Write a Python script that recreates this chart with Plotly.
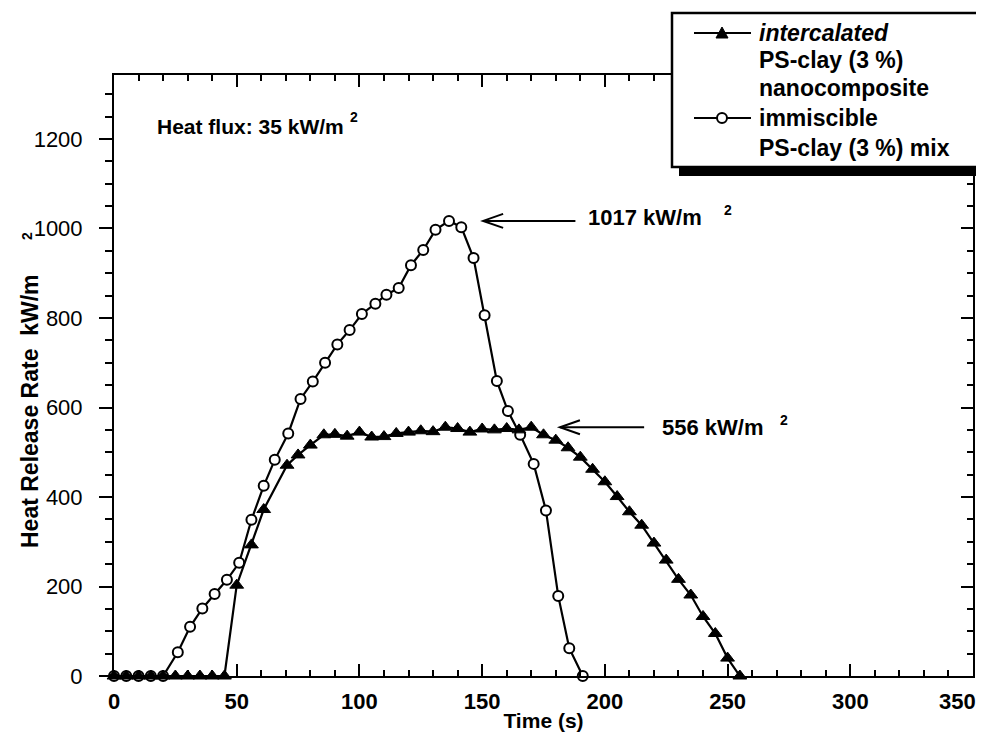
import plotly.graph_objects as go

# ---- data ----
t_nano = [0, 5, 10, 15, 20, 25, 30, 35, 40, 45, 50, 56, 61, 70.5, 75, 80, 85.5, 90, 95, 100,
          105, 110, 115, 120, 125, 130, 135, 140, 145, 150, 155, 160, 165, 170, 175, 180, 185,
          190, 195, 200, 205, 210, 215, 220, 225, 230, 235, 240, 245, 250, 255]
hrr_nano = [0, 0, 0, 0, 0, 0, 0, 0, 0, 0, 203, 293, 372, 471, 494, 516, 539, 540, 536, 545,
            534, 535, 542, 545, 548, 546, 556, 553, 545, 552, 550, 553, 550, 556, 539, 527, 510,
            489, 462, 434, 401, 367, 337, 297, 259, 216, 181, 133, 95, 40, 0]

t_mix = [0, 5, 10, 15, 20, 26, 31, 36, 41, 46, 51, 56, 61, 65.5, 71, 76, 81, 86, 91, 96,
         101, 106.5, 111, 116, 121, 126, 131, 136.5, 141.5, 146.5, 151, 156, 160.5, 165.5, 171,
         176, 181, 185.5, 191]
hrr_mix = [0, 0, 0, 0, 0, 53, 110, 151, 183, 215, 253, 349, 425, 483, 542, 619, 658, 700, 741, 773,
           809, 832, 852, 867, 918, 952, 997, 1017, 1003, 934, 806, 659, 592, 539, 474,
           370, 179, 62, 0]

x_ticks = [0, 50, 100, 150, 200, 250, 300, 350]
y_ticks = [0, 200, 400, 600, 800, 1000, 1200]

peak_mix = 1017
peak_nano = 556

# ---- layout geometry (page body has an 8 px margin) ----
OFF = 8
W, H = 984 - OFF, 741 - OFF
L, T = 114 - OFF, 75 - OFF
R = W - (973 - OFF)
B = H - (676 - OFF)
PW, PH = W - L - R, H - T - B
XR = [0, 350]
YR = [0, 1343]

def px(p):
    return (p - OFF - L) / PW

def py(p):
    return (H - B - (p - OFF)) / PH

def dx(p):
    return XR[0] + (p - OFF - L) / PW * (XR[1] - XR[0])

def dy(p):
    return YR[0] + (H - B - (p - OFF)) / PH * (YR[1] - YR[0])

FONT = "Liberation Sans, Arial, sans-serif"
BLACK = "#000000"

fig = go.Figure()

fig.add_trace(go.Scatter(
    x=t_mix, y=hrr_mix, mode="lines+markers", name="immiscible PS-clay (3 %) mix",
    line=dict(color=BLACK, width=2.2),
    marker=dict(symbol="circle", size=10, color="white", line=dict(color=BLACK, width=2)),
    cliponaxis=False, showlegend=False))
fig.add_trace(go.Scatter(
    x=t_nano, y=hrr_nano, mode="lines+markers", name="intercalated PS-clay (3 %) nanocomposite",
    line=dict(color=BLACK, width=2.2),
    marker=dict(symbol="triangle-up", size=12, color=BLACK, line=dict(color=BLACK, width=1)),
    cliponaxis=False, showlegend=False))
# dummy trace for mirrored axes
fig.add_trace(go.Scatter(x=[None], y=[None], xaxis="x2", yaxis="y2",
                         showlegend=False, hoverinfo="skip"))

fig.update_layout(
    width=W, height=H,
    margin=dict(l=L, r=R, t=T, b=B),
    paper_bgcolor="white", plot_bgcolor="white",
    font=dict(family=FONT, color=BLACK),
    xaxis=dict(range=XR, tickvals=x_ticks, ticktext=[str(v) if v < 350 else "" for v in x_ticks],
               ticks="inside", ticklen=12, tickwidth=2,
               tickcolor=BLACK, showline=True, linecolor=BLACK, linewidth=2,
               showgrid=False, zeroline=False,
               minor=dict(dtick=10, ticks="inside", ticklen=6, tickwidth=1.5, tickcolor=BLACK),
               tickfont=dict(family=FONT, size=22, weight="bold", color=BLACK),
               ticklabelstandoff=5,
               title=dict(text="Time (s)", font=dict(family=FONT, size=21, weight="bold"),
                          standoff=0)),
    yaxis=dict(range=YR, tickvals=y_ticks, ticks="outside", ticklen=13, tickwidth=2,
               tickcolor=BLACK, showline=True, linecolor=BLACK, linewidth=2,
               showgrid=False, zeroline=False,
               minor=dict(dtick=50, ticks="outside", ticklen=7, tickwidth=1.5, tickcolor=BLACK),
               tickfont=dict(family=FONT, size=22, color=BLACK),
               ticklabelstandoff=12),
    xaxis2=dict(range=XR, overlaying="x", side="top", anchor="y2", tickvals=x_ticks,
                ticks="inside", ticklen=12, tickwidth=2, tickcolor=BLACK,
                showline=True, linecolor=BLACK, linewidth=2, showticklabels=False,
                showgrid=False, zeroline=False,
                minor=dict(dtick=10, ticks="inside", ticklen=6, tickwidth=1.5, tickcolor=BLACK)),
    yaxis2=dict(range=YR, overlaying="y", side="right", anchor="x2", tickvals=y_ticks,
                ticks="inside", ticklen=12, tickwidth=2, tickcolor=BLACK,
                showline=True, linecolor=BLACK, linewidth=2, showticklabels=False,
                showgrid=False, zeroline=False,
                minor=dict(dtick=50, ticks="inside", ticklen=6, tickwidth=1.5, tickcolor=BLACK)),
)

shapes = []
ann = []

# last x tick label (sits at the page edge)
ann.append(dict(xref="paper", yref="paper", x=px(957), y=py(701), text=f"<b>{x_ticks[-1]}</b>",
                showarrow=False, font=dict(family=FONT, size=22, color=BLACK),
                xanchor="center", yanchor="middle"))

# y axis title
ann.append(dict(xref="paper", yref="paper", x=px(30), y=py(411),
                text="<b>Heat Release Rate&nbsp;&nbsp;kW/m</b>",
                textangle=-90, showarrow=False, font=dict(family=FONT, size=23, color=BLACK),
                xanchor="center", yanchor="middle"))
ann.append(dict(xref="paper", yref="paper", x=px(27), y=py(236), text="<b>2</b>",
                textangle=-90, showarrow=False, font=dict(family=FONT, size=14, color=BLACK),
                xanchor="center", yanchor="middle"))

# heat flux label
ann.append(dict(xref="paper", yref="paper", x=px(155), y=py(126), text="<b>Heat flux: 35 kW/m</b>",
                showarrow=False, font=dict(family=FONT, size=21, color=BLACK),
                xanchor="left", yanchor="middle"))
ann.append(dict(xref="paper", yref="paper", x=px(354), y=py(117), text="<b>2</b>",
                showarrow=False, font=dict(family=FONT, size=14, color=BLACK),
                xanchor="center", yanchor="middle"))

# arrows with peak labels
def arrow(x_head, x_tail, yv):
    hl = dx(L + OFF + 20) - dx(L + OFF)
    hh = dy(H - B + OFF - 7) - dy(H - B + OFF)
    shapes.append(dict(type="line", xref="x", yref="y", x0=x_head, x1=x_tail, y0=yv, y1=yv,
                       line=dict(color=BLACK, width=2)))
    shapes.append(dict(type="path", xref="x", yref="y",
                       path=f"M {x_head + hl} {yv + hh} L {x_head} {yv} L {x_head + hl} {yv - hh}",
                       line=dict(color=BLACK, width=2)))

arrow(150.4, 188, peak_mix)
ann.append(dict(xref="x", yref="y", x=192.5, y=peak_mix + 8, text=f"<b>{peak_mix} kW/m</b>",
                showarrow=False, font=dict(family=FONT, size=22, color=BLACK),
                xanchor="left", yanchor="middle"))
ann.append(dict(xref="paper", yref="paper", x=px(728), y=py(210), text="<b>2</b>",
                showarrow=False, font=dict(family=FONT, size=14, color=BLACK),
                xanchor="center", yanchor="middle"))

arrow(181.7, 216, peak_nano)
ann.append(dict(xref="x", yref="y", x=222.5, y=peak_nano, text=f"<b>{peak_nano} kW/m</b>",
                showarrow=False, font=dict(family=FONT, size=22, color=BLACK),
                xanchor="left", yanchor="middle"))
ann.append(dict(xref="paper", yref="paper", x=px(784), y=py(420), text="<b>2</b>",
                showarrow=False, font=dict(family=FONT, size=14, color=BLACK),
                xanchor="center", yanchor="middle"))

# legend box (manual) with drop shadow
shapes.append(dict(type="rect", xref="paper", yref="paper", x0=px(679), x1=px(992),
                   y0=py(176), y1=py(20), fillcolor=BLACK, line=dict(width=0), layer="above"))
shapes.append(dict(type="rect", xref="paper", yref="paper", x0=px(672), x1=px(978),
                   y0=py(167), y1=py(13), fillcolor="white", line=dict(color=BLACK, width=2.5),
                   layer="above"))
# legend samples
for yl in (33, 118):
    shapes.append(dict(type="line", xref="paper", yref="paper", x0=px(694), x1=px(751),
                       y0=py(yl), y1=py(yl), line=dict(color=BLACK, width=2), layer="above"))
cx, cy = 722, 33
shapes.append(dict(type="path", xref="paper", yref="paper",
                   path=(f"M {px(cx-6)} {py(cy+5)} L {px(cx+6)} {py(cy+5)} "
                         f"L {px(cx)} {py(cy-6)} Z"),
                   fillcolor=BLACK, line=dict(color=BLACK, width=1), layer="above"))
cx, cy = 722, 118
shapes.append(dict(type="circle", xref="paper", yref="paper",
                   x0=px(cx-5), x1=px(cx+5), y0=py(cy+5), y1=py(cy-5),
                   fillcolor="white", line=dict(color=BLACK, width=2), layer="above"))

legend_lines = [("<b><i>intercalated</i></b>", 33), ("<b>PS-clay (3 %)</b>", 60),
                ("<b>nanocomposite</b>", 88), ("<b>immiscible</b>", 118),
                ("<b>PS-clay (3 %) mix</b>", 148)]
for txt, yl in legend_lines:
    ann.append(dict(xref="paper", yref="paper", x=px(757), y=py(yl), text=txt,
                    showarrow=False, font=dict(family=FONT, size=23, color=BLACK),
                    xanchor="left", yanchor="middle"))

fig.update_layout(shapes=shapes, annotations=ann)

fig.write_html("out.html")
